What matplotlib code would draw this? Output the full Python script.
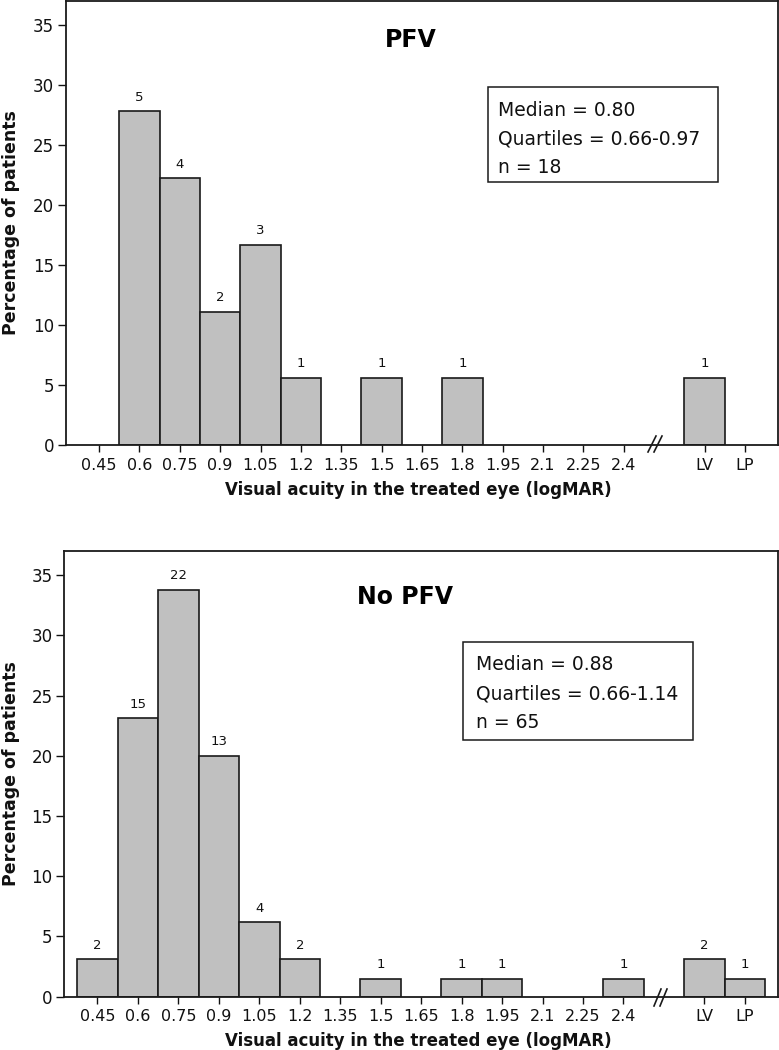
import matplotlib
matplotlib.use("Agg")
import matplotlib.pyplot as plt
from matplotlib.patches import Rectangle
from matplotlib.lines import Line2D

# ---- data ----
categories = ["0.45", "0.6", "0.75", "0.9", "1.05", "1.2", "1.35", "1.5",
              "1.65", "1.8", "1.95", "2.1", "2.25", "2.4", "LV", "LP"]

pfv_pct = [0, 27.8, 22.2, 11.1, 16.7, 5.6, 0, 5.6, 0, 5.6, 0, 0, 0, 0, 5.6, 0]
pfv_counts = [0, 5, 4, 2, 3, 1, 0, 1, 0, 1, 0, 0, 0, 0, 1, 0]

nopfv_pct = [3.1, 23.1, 33.8, 20.0, 6.2, 3.1, 0, 1.5, 0, 1.5, 1.5, 0, 0, 1.5, 3.1, 1.5]
nopfv_counts = [2, 15, 22, 13, 4, 2, 0, 1, 0, 1, 1, 0, 0, 1, 2, 1]

pfv_stats = ["Median = 0.80", "Quartiles = 0.66-0.97", "n = 18"]
nopfv_stats = ["Median = 0.88", "Quartiles = 0.66-1.14", "n = 65"]

yticks = [0, 5, 10, 15, 20, 25, 30, 35]

# ---- layout ----
W, H = 779, 1050
fig = plt.figure(figsize=(W / 100, H / 100), dpi=100)
plt.rcParams['font.family'] = ['DejaVu Sans']

def fx(px):
    return px / W

def fy(py):
    return 1 - py / H

positions = list(range(14)) + [15, 16]

panels = [
    dict(rect=[fx(66), fy(445), fx(778) - fx(66), fy(0.8) - fy(445)],
         pct=pfv_pct, counts=pfv_counts, title="PFV", title_xy=(7.72, 33.75),
         stats=pfv_stats, box=(487.7, 87.3, 717.7, 182.3), text_x=498,
         baselines=(115.5, 144.5, 173.0), xlabel_y=495, ylabel_y=223,
         brk=[((648, 452), (656, 436)), ((654, 452), (662, 436))]),
    dict(rect=[fx(64.3), fy(996.7), fx(778) - fx(64.3), fy(551) - fy(996.7)],
         pct=nopfv_pct, counts=nopfv_counts, title="No PFV", title_xy=(7.6, 33.2),
         stats=nopfv_stats, box=(462.7, 641.7, 692.7, 740.0), text_x=476,
         baselines=(670.0, 699.0, 728.0), xlabel_y=1046, ylabel_y=774,
         brk=[((654, 1006), (661, 989)), ((660, 1006), (667, 989))]),
]

for p in panels:
    ax = fig.add_axes(p["rect"])
    xs = [x for x, v in zip(positions, p["pct"]) if v > 0]
    hs = [v for v in p["pct"] if v > 0]
    cs = [c for c, v in zip(p["counts"], p["pct"]) if v > 0]
    ax.bar(xs, hs, width=1.0, color="#c0c0c0", edgecolor="#1a1a1a", linewidth=1.2, zorder=2)
    for x, h, c in zip(xs, hs, cs):
        ax.annotate(str(c), (x, h), xytext=(0, 7.5), textcoords="offset points",
                    ha="center", va="baseline", fontsize=9.5, color="#111111")
    ax.set_xlim(-0.82, 16.82)
    ax.set_ylim(0, 37)
    ax.set_xticks(positions)
    ax.set_xticklabels(categories)
    ax.set_yticks(yticks)
    ax.tick_params(axis="x", direction="out", length=5, width=1.0, pad=4,
                   labelsize=11.5, colors="#111111")
    ax.tick_params(axis="y", direction="out", length=6, width=1.0, pad=2.5,
                   labelsize=12, colors="#111111")
    for s in ax.spines.values():
        s.set_linewidth(1.3)
        s.set_color("#1a1a1a")
    ax.text(p["title_xy"][0], p["title_xy"][1], p["title"], ha="center", va="center",
            fontsize=17, fontweight="bold", color="black")

    # statistics box
    x0, y0, x1, y1 = p["box"]
    fig.add_artist(Rectangle((fx(x0), fy(y1)), fx(x1) - fx(x0), fy(y0) - fy(y1),
                             transform=fig.transFigure, fill=False,
                             edgecolor="#1a1a1a", linewidth=1.1))
    for line, b in zip(p["stats"], p["baselines"]):
        fig.text(fx(p["text_x"]), fy(b), line, ha="left", va="baseline",
                 fontsize=13.5, color="#111111")

    # axis break marks
    for (a, b) in p["brk"]:
        fig.add_artist(Line2D([fx(a[0]), fx(b[0])], [fy(a[1]), fy(b[1])],
                              transform=fig.transFigure, color="#1a1a1a", linewidth=1.2))

    fig.text(fx(418), fy(p["xlabel_y"]), "Visual acuity in the treated eye (logMAR)",
             ha="center", va="baseline", fontsize=12, fontweight="bold", color="#111111")
    fig.text(fx(11), fy(p["ylabel_y"]), "Percentage of patients", rotation=90,
             ha="center", va="center", fontsize=12.5, fontweight="bold", color="#111111")

fig.savefig("out.png", dpi=100)
